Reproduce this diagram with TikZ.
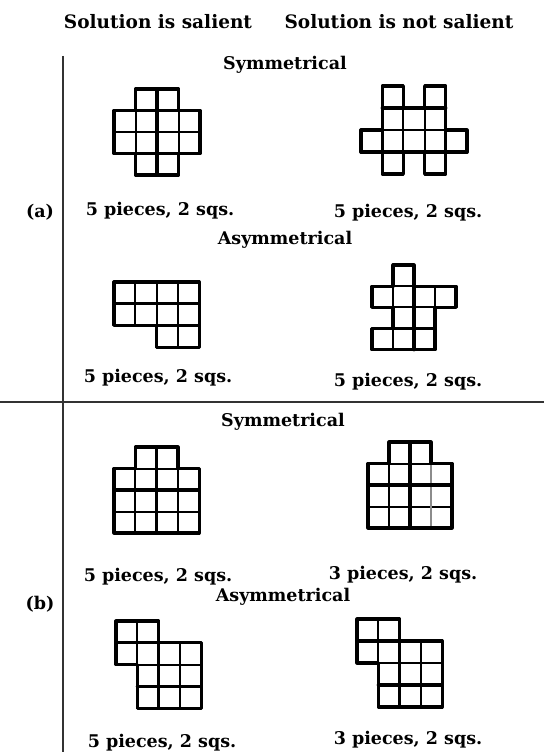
\documentclass[tikz,border=0pt]{standalone}
\usepackage{fontspec}
\setmainfont{DejaVu Serif}
\begin{document}
\begin{tikzpicture}[x=1pt,y=-1pt,
  txt/.style={font=\fontsize{17.5}{19}\selectfont\bfseries, inner sep=0pt},
  hdr/.style={font=\fontsize{18.5}{20}\selectfont\bfseries, inner sep=0pt},
  cell/.style={draw=black, line width=2pt},
  inner/.style={draw=black, line width=3.2pt, line cap=round},
  outl/.style={draw=black, line width=3.2pt, line join=round},
  grey/.style={draw=black!45, line width=2pt},
  rule/.style={draw=black!80, line width=1.4pt}]
\useasboundingbox[fill=white] (0,0) rectangle (544,752);

% frame lines
\coordinate (vt) at (63,56);
\coordinate (vb) at (63,752);
\coordinate (hl) at (0,402);
\coordinate (hr) at (544,402);
\draw[rule] (vt) -- (vb);
\draw[rule] (hl) -- (hr);

% texts
\node[hdr] (h1) at (158,22) {Solution is salient};
\node[hdr] (h2) at (399,22) {Solution is not salient};
\node[txt] (sa) at (285,65) {Symmetrical};
\node[txt] (la) at (40,212) {(a)};
\node[txt] (l1) at (160,211) {5 pieces, 2 sqs.};
\node[txt] (l2) at (408,213) {5 pieces, 2 sqs.};
\node[txt] (asa) at (285,240) {Asymmetrical};
\node[txt] (l3) at (158,378) {5 pieces, 2 sqs.};
\node[txt] (l4) at (408,382) {5 pieces, 2 sqs.};
\node[txt] (sb) at (283,422) {Symmetrical};
\node[txt] (l5) at (158,577) {5 pieces, 2 sqs.};
\node[txt] (l6) at (403,575) {3 pieces, 2 sqs.};
\node[txt] (lb) at (40,604) {(b)};
\node[txt] (asb) at (283,597) {Asymmetrical};
\node[txt] (l7) at (162,743) {5 pieces, 2 sqs.};
\node[txt] (l8) at (408,740) {3 pieces, 2 sqs.};

% Fig 1: (a) symmetrical salient
\begin{scope}[shift={(114,89)}, x=21.5pt, y=-21.5pt]
  \foreach \c/\r in {1/0,2/0,0/1,1/1,2/1,3/1,0/2,1/2,2/2,3/2,1/3,2/3}
    \draw[cell] (\c,\r) rectangle ++(1,1);
  \draw[inner] (2,0) -- (2,4);
  \draw[inner] (0,1) -- (4,1);
  \draw[inner] (0,3) -- (4,3);
  \draw[outl] (1,0) -- (3,0) -- (3,1) -- (4,1) -- (4,3) -- (3,3) -- (3,4) -- (1,4) -- (1,3) -- (0,3) -- (0,1) -- (1,1) -- cycle;
\end{scope}

% Fig 2: (a) symmetrical not salient
\begin{scope}[shift={(361,86)}, x=21.2pt, y=-22pt]
  \foreach \c/\r in {1/0,3/0,1/1,2/1,3/1,0/2,1/2,2/2,3/2,4/2,1/3,3/3}
    \draw[cell] (\c,\r) rectangle ++(1,1);
  \draw[inner] (1,1) -- (4,1);
  \draw[inner] (0,3) -- (5,3);
  \draw[inner] (4,2) -- (4,3);
  \draw[inner] (1,0) -- (1,4);
  \draw[outl] (1,0) -- (2,0) -- (2,1) -- (3,1) -- (3,0) -- (4,0) -- (4,2) -- (5,2) -- (5,3) -- (4,3) -- (4,4) -- (3,4) -- (3,3) -- (2,3) -- (2,4) -- (1,4) -- (1,3) -- (0,3) -- (0,2) -- (1,2) -- cycle;
\end{scope}

% Fig 3: (a) asymmetrical salient
\begin{scope}[shift={(114,282)}, x=21.3pt, y=-21.7pt]
  \foreach \c/\r in {0/0,1/0,2/0,3/0,0/1,1/1,2/1,3/1,2/2,3/2}
    \draw[cell] (\c,\r) rectangle ++(1,1);
  \draw[inner] (0,1) -- (4,1);
  \draw[inner] (2,2) -- (4,2);
  \draw[inner] (2,2) -- (2,3);
  \draw[outl] (0,0) -- (4,0) -- (4,3) -- (2,3) -- (2,2) -- (0,2) -- cycle;
\end{scope}

% Fig 4: (a) asymmetrical not salient
\begin{scope}[shift={(372,265)}, x=21pt, y=-21.2pt]
  \foreach \c/\r in {1/0,0/1,1/1,2/1,3/1,1/2,2/2,0/3,1/3,2/3}
    \draw[cell] (\c,\r) rectangle ++(1,1);
  \draw[inner] (0,3) -- (3,3);
  \draw[inner] (2,1) -- (2,4);
  \draw[outl] (1,0) -- (2,0) -- (2,1) -- (4,1) -- (4,2) -- (3,2) -- (3,4) -- (0,4) -- (0,3) -- (1,3) -- (1,2) -- (0,2) -- (0,1) -- (1,1) -- cycle;
\end{scope}

% Fig 5: (b) symmetrical salient
\begin{scope}[shift={(114,447)}, x=21.3pt, y=-21.5pt]
  \foreach \c/\r in {1/0,2/0,0/1,1/1,2/1,3/1,0/2,1/2,2/2,3/2,0/3,1/3,2/3,3/3}
    \draw[cell] (\c,\r) rectangle ++(1,1);
  \draw[inner] (2,0) -- (2,4);
  \draw[inner] (0,2) -- (4,2);
  \draw[outl] (1,0) -- (3,0) -- (3,1) -- (4,1) -- (4,4) -- (0,4) -- (0,1) -- (1,1) -- cycle;
\end{scope}

% Fig 6: (b) symmetrical not salient
\begin{scope}[shift={(368,442)}, x=21pt, y=-21.5pt]
  \foreach \c/\r in {1/0,2/0,0/1,1/1,2/1,3/1,0/2,1/2,2/2,3/2,0/3,1/3,2/3,3/3}
    \draw[cell] (\c,\r) rectangle ++(1,1);
  \draw[grey] (3,1) -- (3,4);
  \draw[inner] (2,0) -- (2,4);
  \draw[inner] (0,2) -- (4,2);
  \draw[outl] (1,0) -- (3,0) -- (3,1) -- (4,1) -- (4,4) -- (0,4) -- (0,1) -- (1,1) -- cycle;
\end{scope}

% Fig 7: (b) asymmetrical salient
\begin{scope}[shift={(116,621)}, x=21.3pt, y=-21.8pt]
  \foreach \c/\r in {0/0,1/0,0/1,1/1,2/1,3/1,1/2,2/2,3/2,1/3,2/3,3/3}
    \draw[cell] (\c,\r) rectangle ++(1,1);
  \draw[inner] (2,1) -- (2,4);
  \draw[inner] (1,3) -- (4,3);
  \draw[inner] (0,1) -- (2,1);
  \draw[outl] (0,0) -- (2,0) -- (2,1) -- (4,1) -- (4,4) -- (1,4) -- (1,2) -- (0,2) -- cycle;
\end{scope}

% Fig 8: (b) asymmetrical not salient
\begin{scope}[shift={(357,619)}, x=21.3pt, y=-22pt]
  \foreach \c/\r in {0/0,1/0,0/1,1/1,2/1,3/1,1/2,2/2,3/2,1/3,2/3,3/3}
    \draw[cell] (\c,\r) rectangle ++(1,1);
  \draw[inner] (2,0) -- (2,4);
  \draw[inner] (1,3) -- (4,3);
  \draw[inner] (0,1) -- (2,1);
  \draw[outl] (0,0) -- (2,0) -- (2,1) -- (4,1) -- (4,4) -- (1,4) -- (1,2) -- (0,2) -- cycle;
\end{scope}
\end{tikzpicture}
\end{document}
